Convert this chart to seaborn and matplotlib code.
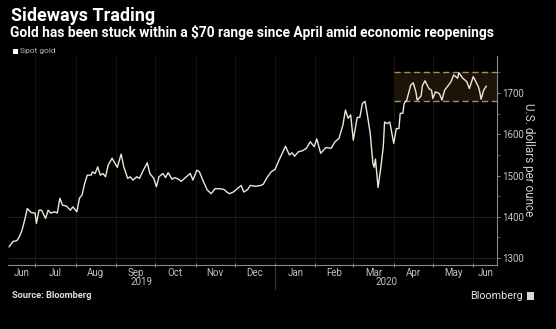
import matplotlib
matplotlib.use("Agg")
import matplotlib.pyplot as plt
import matplotlib.dates as mdates
from matplotlib.patches import Rectangle
from matplotlib.lines import Line2D
import matplotlib.transforms as mtransforms
import seaborn as sns
import pandas as pd

# ---------------- data ----------------
dates = [
    "2019-06-11", "2019-06-14", "2019-06-17", "2019-06-19", "2019-06-21", "2019-06-23",
    "2019-06-25", "2019-06-28", "2019-07-01", "2019-07-02", "2019-07-04", "2019-07-06",
    "2019-07-09", "2019-07-11", "2019-07-13", "2019-07-16", "2019-07-18", "2019-07-20",
    "2019-07-22", "2019-07-25", "2019-07-28", "2019-07-30", "2019-08-02", "2019-08-04",
    "2019-08-06", "2019-08-08", "2019-08-10", "2019-08-13", "2019-08-14", "2019-08-16",
    "2019-08-18", "2019-08-20", "2019-08-22", "2019-08-24", "2019-08-26", "2019-08-29",
    "2019-09-02", "2019-09-05", "2019-09-07", "2019-09-10", "2019-09-12", "2019-09-14",
    "2019-09-17", "2019-09-19", "2019-09-22", "2019-09-25", "2019-09-27", "2019-09-30",
    "2019-10-02", "2019-10-04", "2019-10-07", "2019-10-09", "2019-10-11", "2019-10-14",
    "2019-10-16", "2019-10-19", "2019-10-21", "2019-10-25", "2019-10-28", "2019-10-30",
    "2019-11-02", "2019-11-04", "2019-11-07", "2019-11-10", "2019-11-13", "2019-11-16",
    "2019-11-20", "2019-11-23", "2019-11-25", "2019-11-27", "2019-11-30", "2019-12-03",
    "2019-12-06", "2019-12-08", "2019-12-11", "2019-12-13", "2019-12-17", "2019-12-21",
    "2019-12-23", "2019-12-26", "2019-12-29", "2020-01-01", "2020-01-03", "2020-01-04",
    "2020-01-09", "2020-01-12", "2020-01-14", "2020-01-16", "2020-01-19", "2020-01-22",
    "2020-01-25", "2020-01-28", "2020-01-31", "2020-02-02", "2020-02-05", "2020-02-09",
    "2020-02-13", "2020-02-16", "2020-02-19", "2020-02-22", "2020-02-24", "2020-02-26",
    "2020-02-28", "2020-03-01", "2020-03-04", "2020-03-06", "2020-03-08", "2020-03-10",
    "2020-03-12", "2020-03-14", "2020-03-16", "2020-03-17", "2020-03-18", "2020-03-20",
    "2020-03-22", "2020-03-24", "2020-03-25", "2020-03-27", "2020-03-29", "2020-04-01",
    "2020-04-03", "2020-04-05", "2020-04-06", "2020-04-08", "2020-04-09", "2020-04-11",
    "2020-04-14", "2020-04-16", "2020-04-18", "2020-04-19", "2020-04-22", "2020-04-23",
    "2020-04-25", "2020-04-28", "2020-04-30", "2020-05-01", "2020-05-03", "2020-05-06",
    "2020-05-08", "2020-05-10", "2020-05-12", "2020-05-15", "2020-05-17", "2020-05-20",
    "2020-05-21", "2020-05-24", "2020-05-27", "2020-05-29", "2020-06-01", "2020-06-05",
    "2020-06-06", "2020-06-07", "2020-06-09", "2020-06-11",
]
prices = [
    1327, 1340, 1342, 1352, 1368, 1392,
    1420, 1410, 1409, 1384, 1416, 1416,
    1396, 1416, 1409, 1412, 1409, 1445,
    1428, 1426, 1416, 1424, 1412, 1445,
    1453, 1481, 1501, 1501, 1509, 1505,
    1521, 1501, 1505, 1497, 1525, 1542,
    1520, 1552, 1521, 1493, 1497, 1489,
    1497, 1493, 1513, 1531, 1505, 1493,
    1473, 1497, 1505, 1495, 1507, 1491,
    1495, 1491, 1486, 1497, 1505, 1489,
    1513, 1509, 1486, 1465, 1456, 1468,
    1468, 1466, 1460, 1456, 1460, 1468,
    1476, 1460, 1466, 1476, 1474, 1476,
    1479, 1496, 1509, 1515, 1530, 1537,
    1571, 1550, 1555, 1547, 1558, 1560,
    1566, 1582, 1570, 1589, 1554, 1568,
    1566, 1582, 1590, 1622, 1659, 1639,
    1647, 1586, 1641, 1641, 1675, 1680,
    1643, 1602, 1530, 1520, 1540, 1471,
    1517, 1570, 1630, 1626, 1630, 1578,
    1614, 1614, 1651, 1651, 1675, 1683,
    1719, 1725, 1703, 1683, 1693, 1718,
    1730, 1711, 1707, 1687, 1703, 1699,
    1683, 1707, 1715, 1728, 1744, 1736,
    1749, 1736, 1728, 1711, 1740, 1715,
    1703, 1685, 1707, 1717,
]
y_ticks = [1300, 1400, 1500, 1600, 1700]
month_labels = ["Jun", "Jul", "Aug", "Sep", "Oct", "Nov", "Dec",
                "Jan", "Feb", "Mar", "Apr", "May", "Jun"]
year_labels = ["2019", "2020"]
range_low, range_high = 1680, 1750
range_start = "2020-04-01"

title = "Sideways Trading"
subtitle = "Gold has been stuck within a $70 range since April amid economic reopenings"
legend_label = "Spot gold"
source = "Source: Bloomberg"
brand = "Bloomberg"
ylabel = "U.S. dollars per ounce"

# ---------------- style ----------------
sns.set_theme(style="dark", rc={
    "axes.facecolor": "black", "figure.facecolor": "black",
    "savefig.facecolor": "black", "axes.edgecolor": "#8c8c8c",
    "axes.grid": False, "text.color": "white",
})
plt.rcParams['font.family'] = ['Roboto', 'DejaVu Sans']

W, H = 556, 329
fig = plt.figure(figsize=(W / 100, H / 100), dpi=100)
ax = fig.add_axes([8 / W, (H - 265) / H, 489 / W, 209 / H])
ax.set_facecolor("black")

df = pd.DataFrame({"date": pd.to_datetime(dates), "price": prices})

x0 = pd.Timestamp("2019-06-10 05:00")
x1 = pd.Timestamp("2020-06-19 05:00")

month_starts = list(pd.date_range("2019-07-01", "2020-06-01", freq="MS"))

# faint grid
for m in month_starts:
    ax.axvline(m, color="#151515", lw=0.8, zorder=0)
for v in (1300, 1400):
    ax.axhline(v, color="#1e1e1e", lw=0.8, zorder=0)

# range box
rs = pd.Timestamp(range_start)
ax.fill_between([rs, x1], range_low, range_high, color="#1d1309", lw=0, zorder=1)
for v in (range_low, range_high):
    ax.plot([rs, x1], [v, v], color="#a88d64", lw=1.0, ls=(0, (4.5, 2.5)), zorder=2)

sns.lineplot(data=df, x="date", y="price", ax=ax, color="#ece7d8", lw=1.0, zorder=3)

ax.set_xlim(x0, x1)
ax.set_ylim(1283, 1790)
ax.set_xlabel("")
ax.set_ylabel("")

for s in ("top", "left"):
    ax.spines[s].set_visible(False)
for s in ("right", "bottom"):
    ax.spines[s].set_visible(True)
    ax.spines[s].set_color("#8a8a8a")
    ax.spines[s].set_linewidth(0.8)

# y axis on right
ax.yaxis.tick_right()
ax.set_yticks(y_ticks)
ax.set_yticks([v + 50 for v in y_ticks[:-1]] + [1750], minor=True)
ax.tick_params(axis="y", which="major", right=True, left=False, length=2.5, width=0.7,
               color="#8a8a8a", labelcolor="#c8c8c8", labelsize=7, pad=1)
ax.tick_params(axis="y", which="minor", right=True, left=False, length=1.8, width=0.6,
               color="#6a6a6a")

# x axis: ticks at month starts, labels centred in visible part of month
edges = [x0] + month_starts + [x1]
centers = [edges[i] + (edges[i + 1] - edges[i]) / 2 for i in range(len(edges) - 1)]
ax.set_xticks(month_starts)
ax.set_xticklabels([""] * len(month_starts))
ax.set_xticks(centers, minor=True)
ax.set_xticklabels(month_labels, minor=True)
ax.tick_params(axis="x", which="major", bottom=True, length=2.5, width=0.7,
               color="#8a8a8a", direction="inout")
ax.tick_params(axis="x", which="minor", bottom=True, length=0, pad=2.5,
               labelcolor="#c0c0c0", labelsize=7)

# year labels and separator
trans = mtransforms.blended_transform_factory(ax.transData, fig.transFigure)
year_edges = [x0, pd.Timestamp("2020-01-01"), x1]
for i, lab in enumerate(year_labels):
    c = year_edges[i] + (year_edges[i + 1] - year_edges[i]) / 2
    ax.text(c, 1 - 282 / H, lab, transform=trans, ha="center", va="center",
            fontsize=7, color="#c0c0c0")
sep = mdates.date2num(pd.Timestamp("2020-01-01"))
fig.add_artist(Line2D([sep, sep], [1 - 266 / H, 1 - 289 / H], transform=trans,
                      color="#3a3a3a", lw=0.8))

# texts
renderer = fig.canvas.get_renderer()


def fit(t, width_px):
    for _ in range(3):
        bb = t.get_window_extent(renderer)
        t.set_fontsize(t.get_fontsize() * width_px / bb.width)


t1 = fig.text(11 / W, 1 - 16 / H, title, fontsize=12, fontweight="bold",
              color="white", ha="left", va="center")
fit(t1, 145)
t2 = fig.text(10 / W, 1 - 32 / H, subtitle, fontsize=8, fontweight="bold",
              color="white", ha="left", va="center")
fit(t2, 482)
fig.add_artist(Rectangle((13 / W, 1 - 54 / H), 4.5 / W, 4.5 / H,
                         transform=fig.transFigure, color="white", lw=0))
fig.text(19.5 / W, 1 - 51.5 / H, legend_label, fontsize=6, color="#b8b8b8",
         ha="left", va="center")
t4 = fig.text(12 / W, 1 - 295 / H, source, fontsize=6.5, fontweight="bold",
              color="#e0e0e0", ha="left", va="center")
fit(t4, 80)
t5 = fig.text(470 / W, 1 - 296 / H, brand, fontsize=8, color="#e6e6e6",
              ha="left", va="center")
fit(t5, 53)
fig.add_artist(Rectangle((527 / W, 1 - 300 / H), 7 / W, 8 / H,
                         transform=fig.transFigure, color="#d8d8d8", lw=0))
fig.text(529 / W, 1 - 160 / H, ylabel, rotation=270, fontsize=8.5, color="#cfcfcf",
         ha="center", va="center")

fig.savefig("out.png", dpi=100, facecolor="black")
